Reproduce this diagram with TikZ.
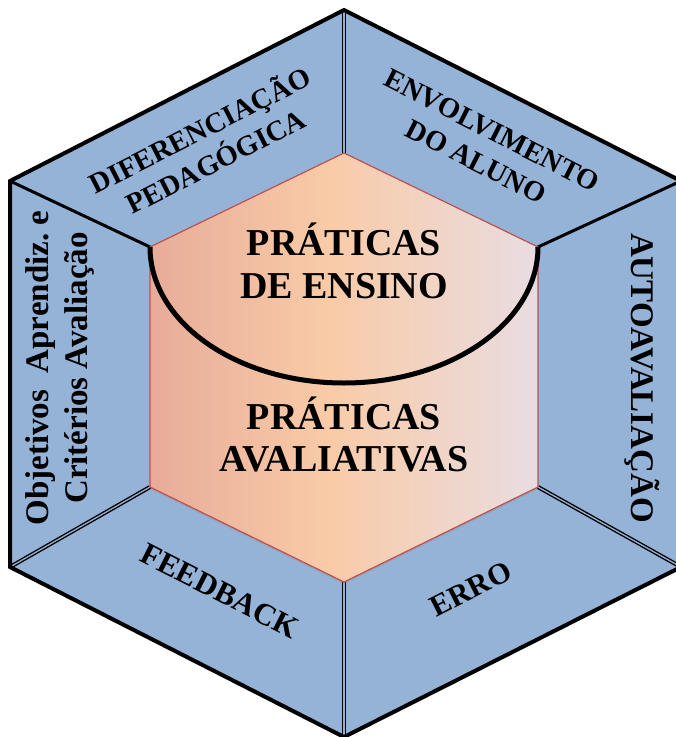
\documentclass[tikz,border=0pt]{standalone}
\usepackage{fontspec}
\setmainfont{Liberation Serif}
\usetikzlibrary{shadows}
\definecolor{hexblue}{HTML}{95B3D7}
\definecolor{rose}{HTML}{D48A8A}
\definecolor{peach}{HTML}{F9CBA7}
\definecolor{lav}{HTML}{E6E0EC}
\definecolor{edgered}{HTML}{C0504D}
\pgfdeclarehorizontalshading{coreshade}{100bp}{color(0bp)=(rose); color(48bp)=(peach); color(80bp)=(lav); color(100bp)=(lav)}
\begin{document}
\begin{tikzpicture}[x=1pt,y=-1pt,
  dbl/.style={draw=black, line width=1.4pt, double=hexblue, double distance=1.3pt},
  sgl/.style={draw=black, line width=3pt},
  rim/.style={draw=black, line width=4pt, line join=miter},
  core/.style={shading=coreshade, draw=edgered, line width=1.2pt,
    drop shadow={opacity=0.25, shadow xshift=0pt, shadow yshift=-2pt}},
  bowl/.style={draw=black, line width=5pt},
  bigtxt/.style={font=\bfseries\fontsize{38}{43}\selectfont, anchor=base, inner sep=0pt},
  lbl/.style={font=\bfseries\fontsize{28.5}{35}\selectfont, align=center, inner sep=0pt},
  vlbl/.style={font=\bfseries\fontsize{33}{39}\selectfont, align=center, inner sep=0pt}]
\useasboundingbox (0,0) rectangle (676,737);
% outer hexagon
\coordinate (OT) at (344,10);
\coordinate (OUR) at (681,181);
\coordinate (OLR) at (681,567);
\coordinate (OB) at (344,737);
\coordinate (OLL) at (10,567);
\coordinate (OUL) at (10,181);
% inner hexagon
\coordinate (IT) at (344,153);
\coordinate (IUR) at (538,247);
\coordinate (ILR) at (538,487);
\coordinate (IB) at (344,582);
\coordinate (ILL) at (150,487);
\coordinate (IUL) at (150,247);
\fill[hexblue] (OT)--(OUR)--(OLR)--(OB)--(OLL)--(OUL)--cycle;
\draw[dbl] (IT)--(OT);
\draw[dbl] (ILL)--(OLL);
\draw[dbl] (ILR)--(OLR);
\draw[dbl] (IB)--(OB);
\draw[sgl] (IUL)--(OUL);
\draw[sgl] (IUR)--(OUR);
\path[core] (IT)--(IUR)--(ILR)--(IB)--(ILL)--(IUL)--cycle;
\draw[bowl] (IUL) arc[start angle=180, end angle=0, x radius=194, y radius=136];
\draw[rim] (OT)--(OUR)--(OLR)--(OB)--(OLL)--(OUL)--cycle;
% texts
\node[bigtxt] (pe1) at (344,255) {PRÁTICAS};
\node[bigtxt] (pe2) at (344,298) {DE ENSINO};
\node[bigtxt] (pa1) at (344,429) {PRÁTICAS};
\node[bigtxt] (pa2) at (344,471) {AVALIATIVAS};
\node[lbl, rotate=27] (dif) at (207,144) {DIFERENCIAÇÃO\\PEDAGÓGICA};
\node[lbl, rotate=-27] (env) at (484,146) {ENVOLVIMENTO\\DO ALUNO};
\node[vlbl, rotate=90] (obj) at (60,368) {Objetivos\ \ Aprendiz.\ e\\Critérios Avaliação};
\node[vlbl, rotate=-90] (auto) at (642,378) {AUTOAVALIAÇÃO};
\node[lbl, rotate=-27, font=\bfseries\fontsize{31}{35}\selectfont] (fb) at (220,591) {FEEDBACK};
\node[lbl, rotate=27, font=\bfseries\fontsize{30}{35}\selectfont] (erro) at (471,589) {ERRO};
\end{tikzpicture}
\end{document}
